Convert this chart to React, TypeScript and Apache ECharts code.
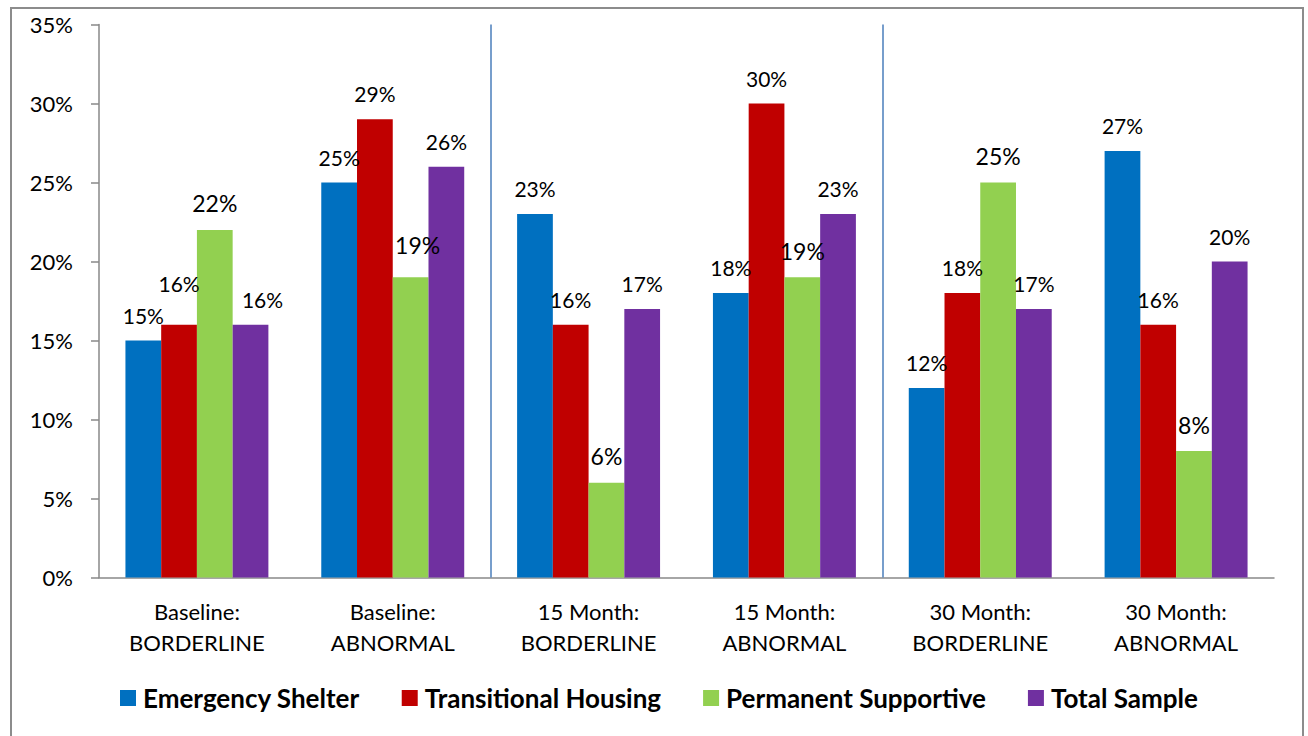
import React, { useEffect, useRef } from "react";
import * as echarts from "echarts";

const categories = [
  "Baseline:\nBORDERLINE",
  "Baseline:\nABNORMAL",
  "15 Month:\nBORDERLINE",
  "15 Month:\nABNORMAL",
  "30 Month:\nBORDERLINE",
  "30 Month:\nABNORMAL",
];
const seriesNames = ["Emergency Shelter", "Transitional Housing", "Permanent Supportive", "Total Sample"];
const emergencyShelter = [15, 25, 23, 18, 12, 27];
const transitionalHousing = [16, 29, 16, 30, 18, 16];
const permanentSupportive = [22, 19, 6, 19, 25, 8];
const totalSample = [16, 26, 17, 23, 17, 20];
const yMin = 0;
const yMax = 35;
const yInterval = 5;
// boundaries between groups (in category units) where the vertical dividers sit
const dividerPositions = [2, 4];

const seriesColors = ["#0070C0", "#C00000", "#92D050", "#7030A0"];
const labelFontSizes = [21, 21, 23, 21];
// label nudges keyed by "seriesIndex-dataIndex"
const labelOffsets: Record<string, [number, number]> = {
  "1-0": [0, -16],
  "3-0": [12, 0],
  "2-1": [7, -6],
};

const FONT = "Lato";

export default function App() {
  const ref = useRef<HTMLDivElement>(null);
  useEffect(() => {
    if (!ref.current) return;
    const chart = echarts.init(ref.current, undefined, { renderer: "svg" });
    const allValues = [emergencyShelter, transitionalHousing, permanentSupportive, totalSample];
    const barSeries = allValues.map((vals, si) => ({
      name: seriesNames[si],
      type: "bar",
      barGap: "0%",
      barCategoryGap: "27%",
      itemStyle: { color: seriesColors[si] },
      label: {
        show: true,
        position: "top",
        distance: 15,
        formatter: "{c}%",
        color: "#000",
        fontFamily: FONT,
        fontSize: labelFontSizes[si],
      },
      data: vals.map((v, di) => {
        const off = labelOffsets[`${si}-${di}`];
        return off ? { value: v, label: { offset: off } } : v;
      }),
    }));
    chart.setOption({
      animation: false,
      backgroundColor: "#fff",
      grid: { left: 99, right: 34, top: 24.5, bottom: 158.5 },
      legend: {
        data: seriesNames,
        left: 115,
        top: 680,
        icon: "rect",
        itemWidth: 16,
        itemHeight: 16,
        itemGap: 42,
        textStyle: {
          fontFamily: FONT,
          fontWeight: "bold",
          fontSize: 26,
          color: "#000",
          padding: [0, 0, 0, 2],
        },
      },
      xAxis: [
        {
          type: "category",
          data: categories,
          axisLine: { lineStyle: { color: "#898989", width: 1.5 } },
          axisTick: { length: 8, lineStyle: { color: "#898989", width: 1.5 } },
          axisLabel: {
            color: "#000",
            fontFamily: FONT,
            fontSize: 22,
            lineHeight: 31,
            margin: 18,
            interval: 0,
          },
        },
        { type: "value", min: 0, max: categories.length, show: false },
      ],
      yAxis: {
        type: "value",
        min: yMin,
        max: yMax,
        interval: yInterval,
        splitLine: { show: false },
        axisLine: { show: true, lineStyle: { color: "#898989", width: 1.5 } },
        axisTick: { show: true, length: 8, lineStyle: { color: "#898989", width: 1.5 } },
        axisLabel: { formatter: "{value}%", color: "#000", fontFamily: FONT, fontSize: 22, margin: 26 },
      },
      graphic: [
        {
          type: "rect",
          shape: { x: 11, y: 8, width: 1292, height: 800 },
          style: { fill: "none", stroke: "#8c8c8c", lineWidth: 2 },
          silent: true,
        },
      ],
      series: [
        ...barSeries,
        {
          type: "line",
          xAxisIndex: 1,
          yAxisIndex: 0,
          data: [],
          markLine: {
            silent: true,
            symbol: "none",
            label: { show: false },
            lineStyle: { color: "#4A7EBB", width: 1.5, type: "solid" },
            data: dividerPositions.map((p) => ({ xAxis: p })),
          },
        },
      ],
    });
    return () => chart.dispose();
  }, []);
  return (
    <div
      ref={ref}
      style={{ position: "fixed", left: 0, top: 0, width: 1308, height: 736, background: "#fff" }}
    />
  );
}
